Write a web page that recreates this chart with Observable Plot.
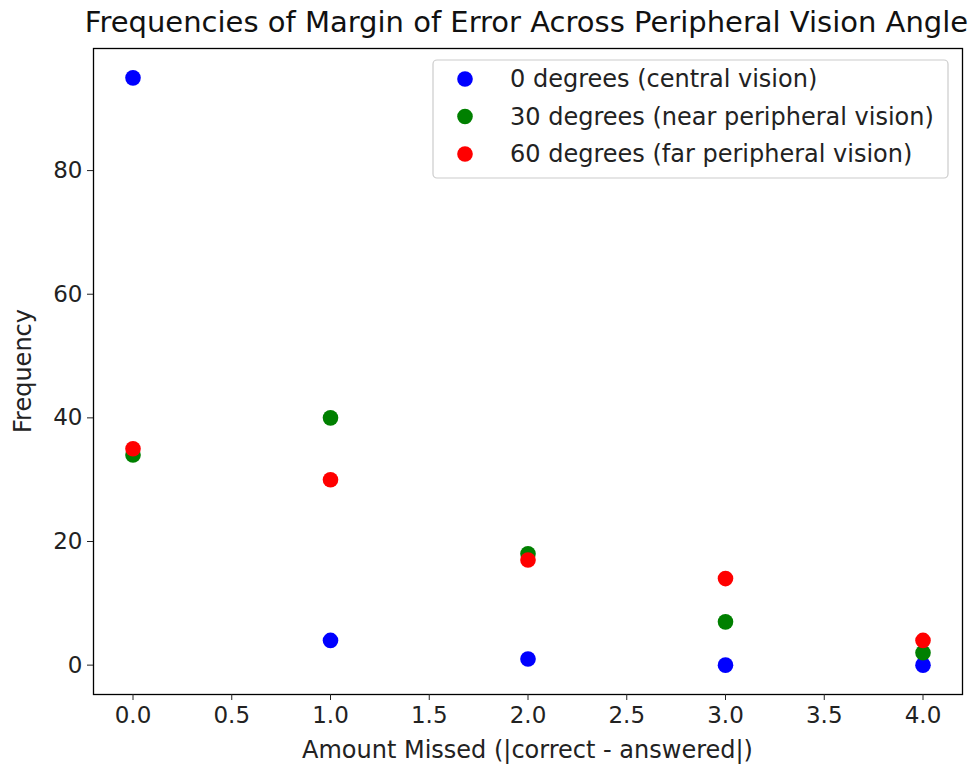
<!DOCTYPE html>
<html>
<head>
<meta charset="utf-8">
<script src="https://cdn.jsdelivr.net/npm/d3@7"></script>
<script src="https://cdn.jsdelivr.net/npm/@observablehq/plot@0.6"></script>
<style>
  html, body { margin: 0; padding: 0; background: #fff; }
  svg { font-family: "DejaVu Sans", sans-serif; }
</style>
</head>
<body>
<div id="chart"></div>
<script>
const amounts = [0, 1, 2, 3, 4];
const central = [95, 4, 1, 0, 0];
const nearPeripheral = [34, 40, 18, 7, 2];
const farPeripheral = [35, 30, 17, 14, 4];
const seriesNames = [
  "0 degrees (central vision)",
  "30 degrees (near peripheral vision)",
  "60 degrees (far peripheral vision)"
];
const seriesColors = ["blue", "green", "red"];
const xTicks = [0, 0.5, 1, 1.5, 2, 2.5, 3, 3.5, 4];
const yTicks = [0, 20, 40, 60, 80];
const titleText = "Frequencies of Margin of Error Across Peripheral Vision Angle";
const xLabel = "Amount Missed (|correct - answered|)";
const yLabel = "Frequency";

const seriesValues = [central, nearPeripheral, farPeripheral];
const data = [];
seriesValues.forEach((vals, s) => {
  vals.forEach((v, i) => data.push({amount: amounts[i], freq: v, series: seriesNames[s]}));
});

const W = 972, H = 772;
const mL = 93, mR = 10, mT = 48, mB = 78;

const chart = Plot.plot({
  width: W,
  height: H,
  marginLeft: mL,
  marginRight: mR,
  marginTop: mT,
  marginBottom: mB,
  style: {fontFamily: "DejaVu Sans, sans-serif", fontSize: "23px", color: "#222", background: "white"},
  x: {domain: [-0.2, 4.2]},
  y: {domain: [-4.75, 99.75]},
  color: {domain: seriesNames, range: seriesColors},
  marks: [
    Plot.dot(data, {x: "amount", y: "freq", fill: "series", r: 7.8, stroke: "none"}),
    Plot.frame({stroke: "black", strokeWidth: 1.3}),
    Plot.axisX({ticks: xTicks, tickFormat: d3.format(".1f"), tickSize: 6, tickPadding: 6, label: null, fontSize: 23, color: "#222"}),
    Plot.axisY({ticks: yTicks, tickSize: 6, tickPadding: 5, label: null, fontSize: 23, color: "#222"})
  ]
});

const svg = d3.select(chart);
svg.append("text")
  .attr("x", (85 + 968) / 2).attr("y", 32)
  .attr("text-anchor", "middle")
  .attr("font-size", 29)
  .attr("fill", "#111")
  .text(titleText);

svg.append("text")
  .attr("x", mL + (W - mL - mR) / 2).attr("y", 758)
  .attr("text-anchor", "middle")
  .attr("font-size", 24)
  .attr("fill", "#222")
  .text(xLabel);

svg.append("text")
  .attr("transform", `translate(31, ${mT + (H - mT - mB) / 2}) rotate(-90)`)
  .attr("text-anchor", "middle")
  .attr("font-size", 24)
  .attr("fill", "#222")
  .text(yLabel);

const lg = svg.append("g");
lg.append("rect")
  .attr("x", 433).attr("y", 60).attr("width", 515).attr("height", 118)
  .attr("rx", 4).attr("fill", "white").attr("fill-opacity", 0.8)
  .attr("stroke", "#ccc").attr("stroke-width", 1.2);
seriesNames.forEach((name, i) => {
  const cy = 79 + i * 37.5;
  lg.append("circle").attr("cx", 465).attr("cy", cy).attr("r", 7.8).attr("fill", seriesColors[i]);
  lg.append("text").attr("x", 510).attr("y", cy).attr("dy", "0.35em")
    .attr("text-anchor", "start")
    .attr("font-size", 24).attr("fill", "#222").text(name);
});

document.getElementById("chart").appendChild(chart);
</script>
</body>
</html>
